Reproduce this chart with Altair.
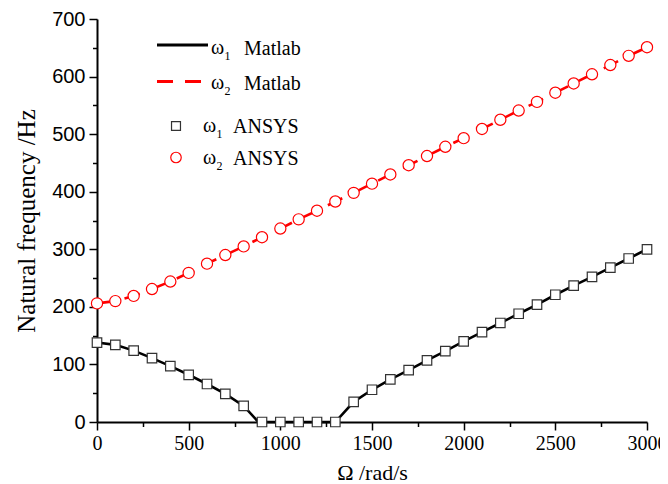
import altair as alt
import pandas as pd

# ---------------- data ----------------
omega = [0, 100, 200, 300, 400, 500, 600, 700, 800, 900, 1000, 1100, 1200, 1300, 1400, 1500,
         1600, 1700, 1800, 1900, 2000, 2100, 2200, 2300, 2400, 2500, 2600, 2700, 2800, 2900, 3000]
w1_ansys = [138, 134, 124, 111, 97, 82, 66, 49, 28, 0, 0, 0, 0, 0, 35, 56,
            74, 90, 107, 123, 140, 156, 172, 188, 204, 221, 237, 252, 268, 284, 300]
w2_ansys = [206, 210, 219, 231, 244, 259, 275, 290, 305, 321, 336, 352, 367, 383, 398, 414,
            430, 446, 462, 478, 493, 509, 525, 541, 556, 572, 588, 604, 620, 636, 651]

omega_m1 = [0, 100, 200, 300, 400, 500, 600, 700, 800, 880, 900, 1000, 1100, 1200, 1300, 1400, 1500,
            1600, 1700, 1800, 1900, 2000, 2100, 2200, 2300, 2400, 2500, 2600, 2700, 2800, 2900, 3000]
w1_matlab = [138, 134, 124, 111, 97, 82, 66, 49, 28, 0, 0, 0, 0, 0, 0, 35, 56,
             74, 90, 107, 123, 140, 156, 172, 188, 204, 221, 237, 252, 268, 284, 300]
omega_m2 = omega
w2_matlab = [206, 210, 219, 231, 244, 259, 275, 290, 305, 321, 336, 352, 367, 383, 398, 414,
             430, 446, 462, 478, 493, 509, 525, 541, 556, 572, 588, 604, 620, 636, 651]

x_major = [0, 500, 1000, 1500, 2000, 2500, 3000]
x_minor = [250, 750, 1250, 1750, 2250, 2750]
y_major = [0, 100, 200, 300, 400, 500, 600, 700]
y_minor = [50, 150, 250, 350, 450, 550, 650]

x_title = "Ω /rad/s"
y_title = "Natural frequency /Hz"

df_a = pd.DataFrame({"omega": omega, "w1": w1_ansys, "w2": w2_ansys})
df_m1 = pd.DataFrame({"omega": omega_m1, "w": w1_matlab})
df_m2 = pd.DataFrame({"omega": omega_m2, "w": w2_matlab})

# ---------------- styling ----------------
SERIF = "Liberation Serif"
SANS = "Liberation Sans"
xs = alt.Scale(domain=[0, 3000], nice=False, zero=False)
ys = alt.Scale(domain=[0, 700], nice=False, zero=False)

common_axis = dict(grid=False, domainColor="black", tickColor="black", labelColor="black",
                   titleColor="black")

x_axis_major = alt.Axis(values=x_major, orient="bottom", tickSize=8, tickWidth=1.5, domainWidth=2,
                        labelFont=SERIF, labelFontSize=20, labelPadding=3, labelFlush=False,
                        title=x_title, titleFont=SERIF, titleFontSize=22, titleFontWeight="normal",
                        titlePadding=9, format="d", **common_axis)
y_axis_major = alt.Axis(values=y_major, orient="left", tickSize=8, tickWidth=1.5, domainWidth=2,
                        labelFont=SANS, labelFontSize=20, labelPadding=4,
                        title=y_title, titleFont=SERIF, titleFontSize=25, titleFontWeight="normal",
                        titlePadding=12, format="d", **common_axis)
x_axis_minor = alt.Axis(values=x_minor, orient="bottom", tickSize=4.5, tickWidth=1.5,
                        labels=False, domain=False, title=None, **common_axis)
y_axis_minor = alt.Axis(values=y_minor, orient="left", tickSize=4.5, tickWidth=1.5,
                        labels=False, domain=False, title=None, **common_axis)

minor = alt.Chart(df_a).mark_point(opacity=0).encode(
    x=alt.X("omega:Q", scale=xs, axis=x_axis_minor),
    y=alt.Y("w1:Q", scale=ys, axis=y_axis_minor),
)

red_line = alt.Chart(df_m2).mark_line(color="#ff0000", strokeWidth=2.6, strokeDash=[16, 12]).encode(
    x=alt.X("omega:Q", scale=xs, axis=x_axis_major),
    y=alt.Y("w:Q", scale=ys, axis=y_axis_major),
)

black_line = alt.Chart(df_m1).mark_line(color="black", strokeWidth=2.6).encode(
    x=alt.X("omega:Q", scale=xs, axis=None),
    y=alt.Y("w:Q", scale=ys, axis=None),
)

squares = alt.Chart(df_a).mark_point(shape="square", size=90, filled=False, fill="white",
                                     fillOpacity=1, stroke="#333333", strokeWidth=1.2, opacity=1).encode(
    x=alt.X("omega:Q", scale=xs, axis=None),
    y=alt.Y("w1:Q", scale=ys, axis=None),
)

circles = alt.Chart(df_a).mark_point(shape="circle", size=125, filled=False, fill="white",
                                     fillOpacity=1, stroke="#ff0000", strokeWidth=1.2, opacity=1).encode(
    x=alt.X("omega:Q", scale=xs, axis=None),
    y=alt.Y("w2:Q", scale=ys, axis=None),
)

# ---------------- legend (drawn manually, pixel positions in plot area) ----------------
one = pd.DataFrame({"k": [0]})


def txt(s, x, y, size=20):
    return alt.Chart(one).mark_text(text=s, font=SERIF, fontSize=size, align="left",
                                    baseline="alphabetic", color="black").encode(
        x=alt.value(x), y=alt.value(y))


leg = [
    alt.Chart(one).mark_rule(color="black", strokeWidth=3).encode(
        x=alt.value(60), x2=alt.value(111), y=alt.value(26)),
    alt.Chart(one).mark_rule(color="#ff0000", strokeWidth=3, strokeDash=[16, 12]).encode(
        x=alt.value(60), x2=alt.value(104), y=alt.value(62.5)),
    alt.Chart(one).mark_point(shape="square", size=80, filled=False, stroke="#333333",
                              strokeWidth=1.2, opacity=1).encode(x=alt.value(79), y=alt.value(107)),
    alt.Chart(one).mark_point(shape="circle", size=110, filled=False, stroke="#ff0000",
                              strokeWidth=1.2, opacity=1).encode(x=alt.value(79), y=alt.value(138.5)),
    txt("ω", 114, 35), txt("1", 127.5, 41, 12), txt("Matlab", 147, 36),
    txt("ω", 114, 70), txt("2", 127.5, 76, 12), txt("Matlab", 147, 71),
    txt("ω", 106, 113), txt("1", 119.5, 119, 12), txt("ANSYS", 136, 114),
    txt("ω", 106, 145), txt("2", 119.5, 151, 12), txt("ANSYS", 136, 146),
]

chart = alt.layer(minor, red_line, black_line, squares, circles, *leg).resolve_axis(
    x="independent", y="independent"
).properties(
    width=550, height=403,
    padding={"left": 89, "top": 11, "right": 13, "bottom": 62},
    autosize=alt.AutoSizeParams(type="none"),
    background="white",
).configure_view(stroke=None)

chart.save("out.html", embed_options={"renderer": "svg", "actions": False})
